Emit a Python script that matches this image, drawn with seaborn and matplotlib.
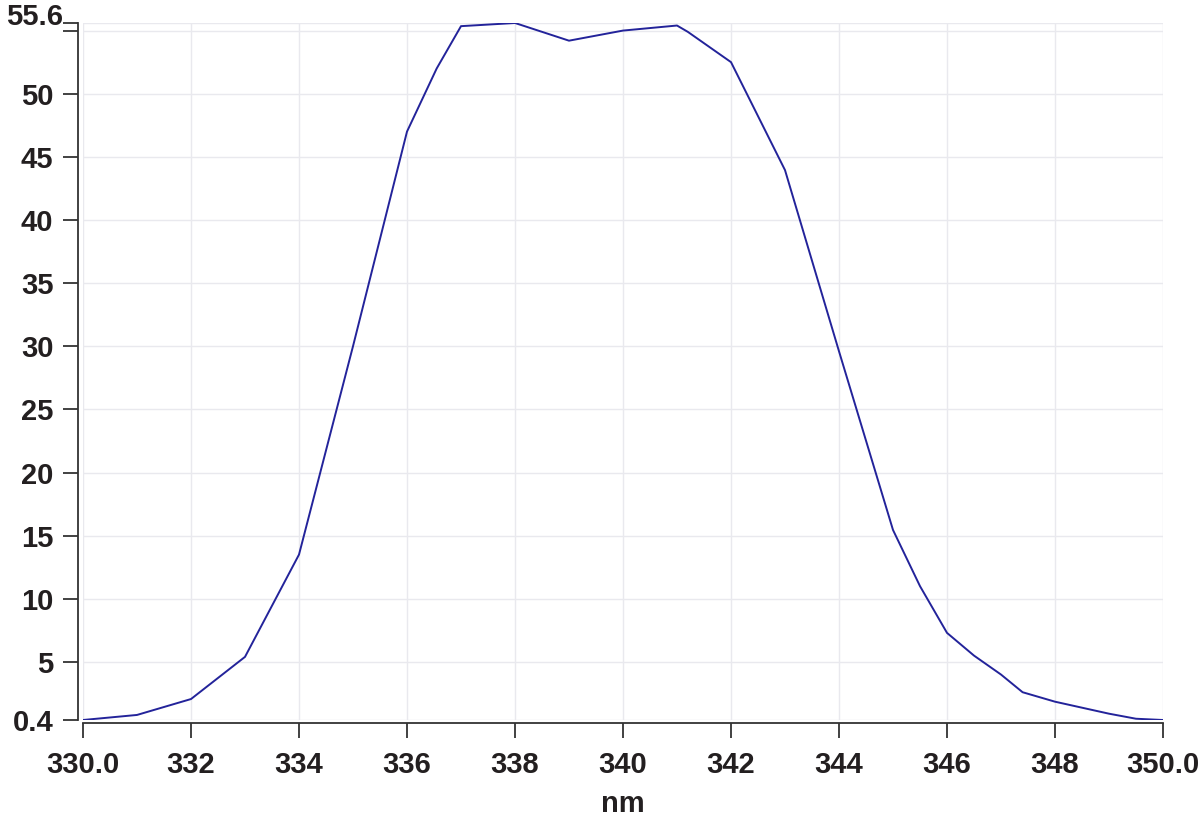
import matplotlib
matplotlib.use("Agg")
import matplotlib.pyplot as plt
import seaborn as sns
import pandas as pd

wavelength = [330.0, 331.0, 332.0, 333.0, 334.0, 335.0, 336.0, 336.55, 337.0, 338.0,
              339.0, 340.0, 341.0, 341.2, 342.0, 343.0, 344.0, 345.0, 345.5, 346.0,
              346.5, 347.0, 347.4, 348.0, 349.0, 349.5, 350.0]
intensity = [0.4, 0.8, 2.06, 5.4, 13.5, 30.0, 47.0, 52.0, 55.35, 55.6,
             54.2, 55.0, 55.4, 54.9, 52.5, 43.95, 29.6, 15.45, 11.0, 7.3,
             5.5, 4.0, 2.6, 1.85, 0.9, 0.5, 0.4]

x_ticks = [330, 332, 334, 336, 338, 340, 342, 344, 346, 348, 350]
x_labels = ["330.0", "332", "334", "336", "338", "340", "342", "344", "346", "348", "350.0"]
y_ticks = [0.4, 5, 10, 15, 20, 25, 30, 35, 40, 45, 50, 55, 55.6]
y_labels = ["0.4", "5", "10", "15", "20", "25", "30", "35", "40", "45", "50", "", ""]
y_top_value = 55.6
y_top_label = "55.6"

sns.set_theme(style="white")
plt.rcParams['font.family'] = ['Liberation Sans', 'DejaVu Sans']

df = pd.DataFrame({"nm": wavelength, "value": intensity})

fig = plt.figure(figsize=(12, 8.22), dpi=100)
ax = fig.add_axes([83/1200, 1 - 720/822, (1163 - 83)/1200, (720 - 23)/822])

sns.lineplot(data=df, x="nm", y="value", ax=ax, color="#23239a", linewidth=1.4)

ax.set_xlim(330, 350)
ax.set_ylim(0.4, 55.6)
ax.set_xticks(x_ticks)
ax.set_xticklabels(x_labels)
ax.set_yticks(y_ticks)
ax.set_yticklabels(y_labels)

ax.grid(True, color="#e9e9ee", linewidth=1.0)
ax.set_axisbelow(True)

for s in ["top", "right"]:
    ax.spines[s].set_visible(False)
ax.spines["left"].set_position(("outward", 3.6))
ax.spines["bottom"].set_position(("outward", 2.2))
for s in ["left", "bottom"]:
    ax.spines[s].set_color("#333333")
    ax.spines[s].set_linewidth(1.3)

ax.tick_params(axis="both", which="both", direction="out", length=10.8, width=1.3,
               color="#333333", labelsize=21, labelcolor="#231f20")
ax.tick_params(axis="y", pad=7.0, left=True)
ax.tick_params(axis="x", pad=9.0, bottom=True)
for lbl in ax.get_xticklabels() + ax.get_yticklabels():
    lbl.set_fontweight("bold")

# top y label sits closer to the tick and slightly raised (as in the reference)
ax.annotate(y_top_label, xy=(0, y_top_value), xycoords=("axes fraction", "data"),
            xytext=(-20, 6), textcoords="offset pixels", ha="right", va="center",
            fontsize=21, fontweight="bold", color="#231f20", annotation_clip=False)

ax.set_xlabel("nm", fontsize=21, fontweight="bold", color="#231f20", labelpad=8)
ax.set_ylabel("")

fig.savefig("out.png", dpi=100)
